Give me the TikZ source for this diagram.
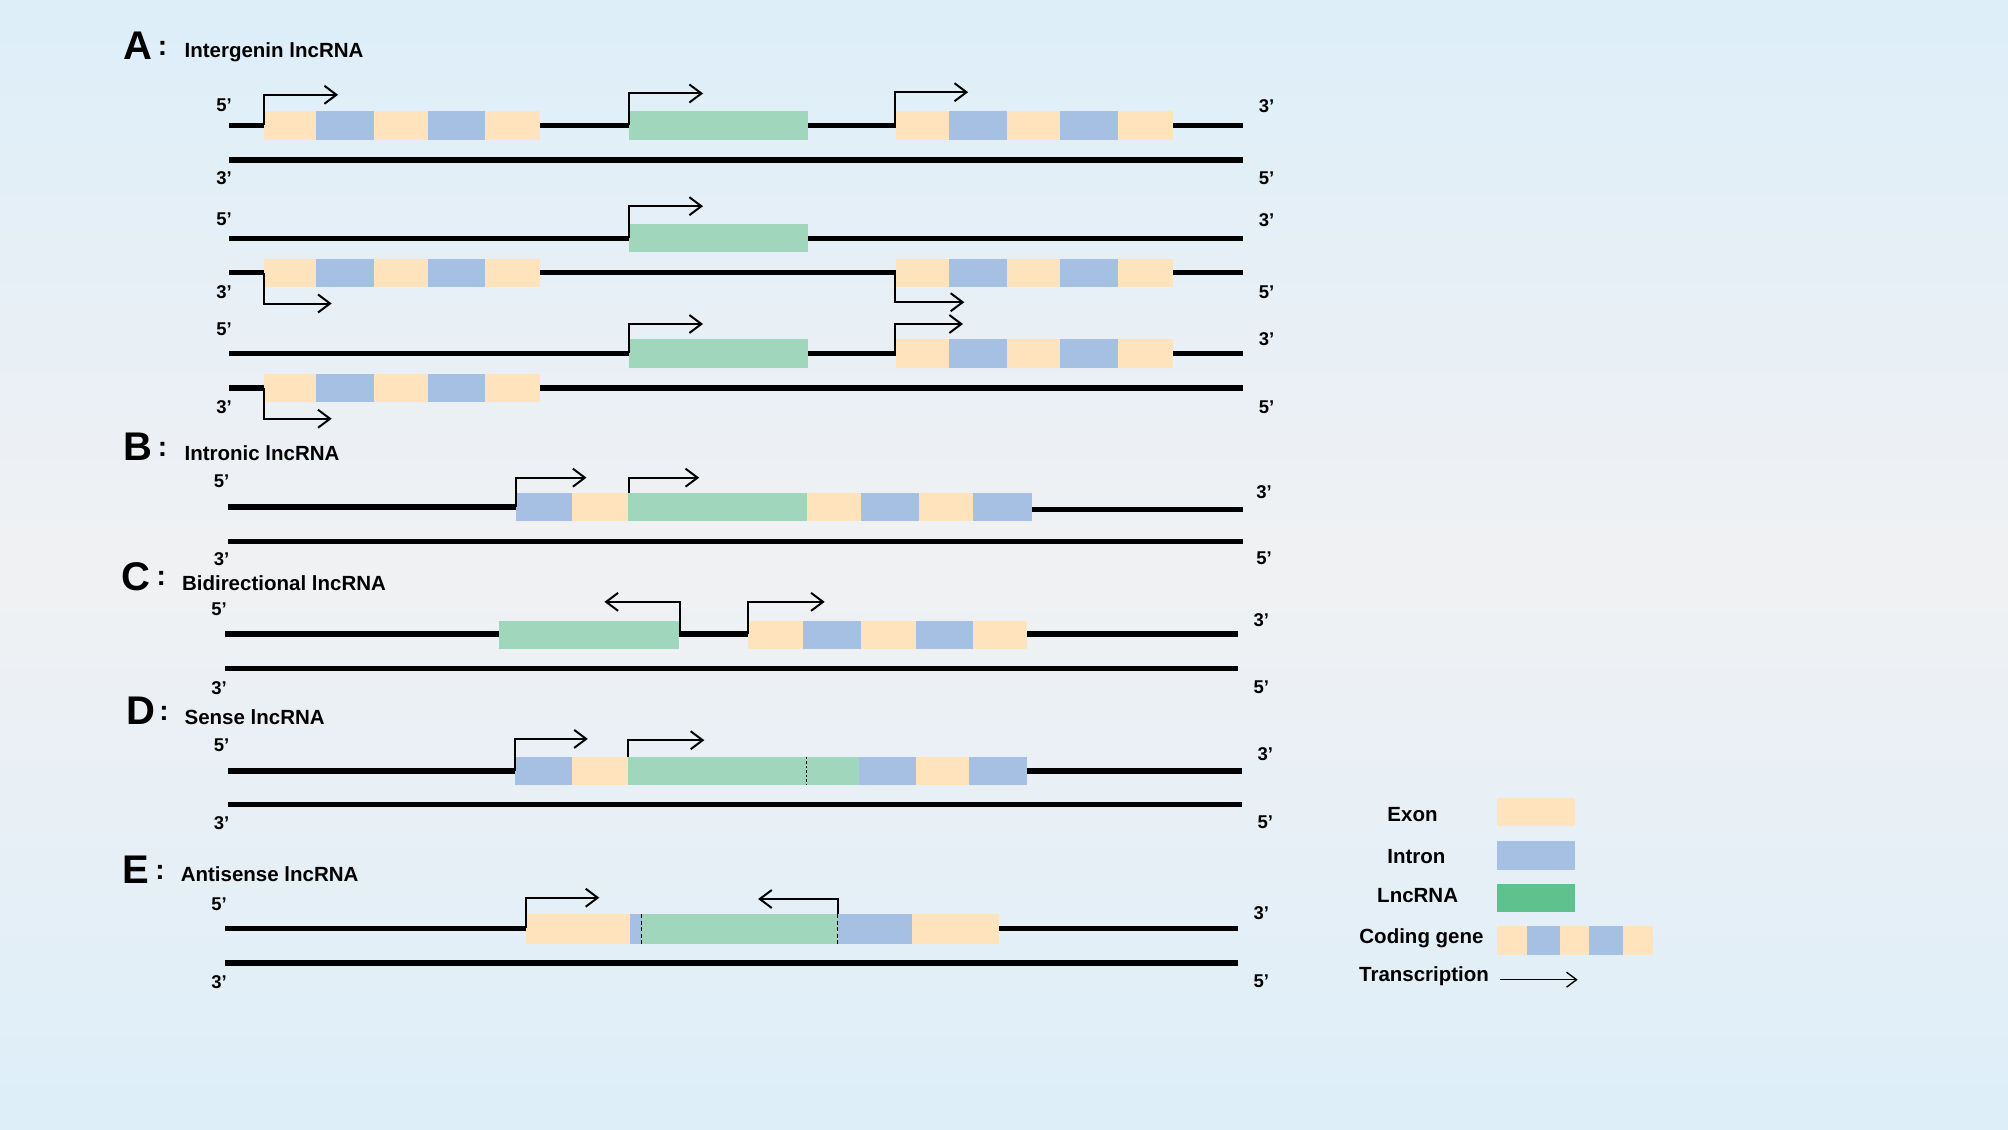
\documentclass[tikz,border=0pt]{standalone}
\usepackage{fontspec}
\setmainfont{Liberation Sans}
\usetikzlibrary{arrows.meta}
\definecolor{bgtop}{HTML}{DDEEF9}
\definecolor{bgmid}{HTML}{F0F1F3}
\definecolor{exon}{HTML}{FFE3BC}
\definecolor{intron}{HTML}{A6C0E4}
\definecolor{lnc}{HTML}{A0D6BC}
\definecolor{lncleg}{HTML}{5EC18E}
\newcommand\cgene[2]{%
  \fill[exon]   (#1,#2-11)     rectangle (#1+41,#2+11);
  \fill[intron] (#1+41,#2-11)  rectangle (#1+86,#2+11);
  \fill[exon]   (#1+86,#2-11)  rectangle (#1+128,#2+11);
  \fill[intron] (#1+128,#2-11) rectangle (#1+173,#2+11);
  \fill[exon]   (#1+173,#2-11) rectangle (#1+216,#2+11);}
\newcommand\lncbox[3]{\fill[lnc] (#1,#3-11) rectangle (#2,#3+11);}
\begin{document}
\begin{tikzpicture}[x=1.2806pt,y=-1.2806pt,
  strand/.style={line width=5.3pt},
  prom/.style={line width=2pt,-{Straight Barb[length=12pt,width=18pt,line width=2pt]}},
  lab/.style={font=\fontsize{18.5}{18.5}\selectfont\bfseries,inner sep=0pt},
  ttl/.style={font=\fontsize{20.5}{20.5}\selectfont\bfseries,anchor=west,inner sep=0pt},
  big/.style={font=\fontsize{40}{40}\selectfont\bfseries,inner sep=0pt},
  colon/.style={font=\fontsize{28}{28}\selectfont\bfseries,inner sep=0pt},
  leg/.style={font=\fontsize{20.5}{20.5}\selectfont\bfseries,inner sep=0pt}]
\shade[top color=bgtop,bottom color=bgtop,middle color=bgmid] (0,0) rectangle (1568,882);
\useasboundingbox (0,0) rectangle (1568,882);

% ---------- A ----------
\node[big] (tA) at (108,36) {A};
\node[colon] (cA) at (127,38) {:};
\node[ttl] (nA) at (144,41) {Intergenin lncRNA};
% row 1
\draw[strand] (179,98) -- (971,98);
\draw[strand] (179,125) -- (971,125);
\cgene{206}{98}
\lncbox{491}{631}{98}
\cgene{700}{98}
\draw[prom] (206,98) |- (264,74);
\draw[prom] (491,98) |- (549,73);
\draw[prom] (699,98) |- (756,72);
\node[lab] (a1) at (175,82) {5’};
\node[lab] (a2) at (989,83) {3’};
\node[lab] (a3) at (175,139) {3’};
\node[lab] (a4) at (989,139) {5’};
% row 2
\draw[strand] (179,186) -- (971,186);
\draw[strand] (179,213) -- (971,213);
\lncbox{491}{631}{186}
\cgene{206}{213}
\cgene{700}{213}
\draw[prom] (491,186) |- (549,161);
\draw[prom] (206,213) |- (259,237);
\draw[prom] (699,213) |- (753,236);
\node[lab] (b1) at (175,171) {5’};
\node[lab] (b2) at (989,172) {3’};
\node[lab] (b3) at (175,228) {3’};
\node[lab] (b4) at (989,228) {5’};
% row 3
\draw[strand] (179,276) -- (971,276);
\draw[strand] (179,303) -- (971,303);
\lncbox{491}{631}{276}
\cgene{700}{276}
\cgene{206}{303}
\draw[prom] (491,276) |- (549,253);
\draw[prom] (699,276) |- (752,253);
\draw[prom] (206,303) |- (259,327);
\node[lab] (c1) at (175,257) {5’};
\node[lab] (c2) at (989,265) {3’};
\node[lab] (c3) at (175,318) {3’};
\node[lab] (c4) at (989,318) {5’};

% ---------- B ----------
\node[big] (tB) at (108,349) {B};
\node[colon] (cB) at (127,351) {:};
\node[ttl] (nB) at (144,354) {Intronic lncRNA};
\draw[strand] (178,396) -- (404,396);
\draw[strand] (805,398) -- (971,398);
\draw[strand] (178,423) -- (971,423);
\fill[intron] (403,385) rectangle (447,407);
\fill[exon]   (447,385) rectangle (490,407);
\fill[lnc]    (490,385) rectangle (630,407);
\fill[exon]   (630,385) rectangle (672,407);
\fill[intron] (672,385) rectangle (718,407);
\fill[exon]   (718,385) rectangle (760,407);
\fill[intron] (760,385) rectangle (806,407);
\draw[prom] (403,396) |- (458,373);
\draw[prom] (491,385) |- (546,373);
\node[lab] (d1) at (173,376) {5’};
\node[lab] (d2) at (987,384) {3’};
\node[lab] (d3) at (173,437) {3’};
\node[lab] (d4) at (987,436) {5’};

% ---------- C ----------
\node[big] (tC) at (106,450) {C};
\node[colon] (cC) at (126,452) {:};
\node[ttl] (nC) at (142,455) {Bidirectional lncRNA};
\draw[strand] (176,495) -- (967,495);
\draw[strand] (176,522) -- (967,522);
\lncbox{390}{530}{496}
\fill[exon]   (584,485) rectangle (627,507);
\fill[intron] (627,485) rectangle (672,507);
\fill[exon]   (672,485) rectangle (715,507);
\fill[intron] (715,485) rectangle (760,507);
\fill[exon]   (760,485) rectangle (802,507);
\draw[prom] (531,495) |- (472,470);
\draw[prom] (584,495) |- (644,470);
\node[lab] (e1) at (171,476) {5’};
\node[lab] (e2) at (985,484) {3’};
\node[lab] (e3) at (171,537) {3’};
\node[lab] (e4) at (985,537) {5’};

% ---------- D ----------
\node[big] (tD) at (110,555) {D};
\node[colon] (cD) at (128,557) {:};
\node[ttl] (nD) at (144,560) {Sense lncRNA};
\draw[strand] (178,602) -- (970,602);
\draw[strand] (178,628) -- (970,628);
\fill[intron] (402,591) rectangle (447,613);
\fill[exon]   (447,591) rectangle (490,613);
\fill[lnc]    (490,591) rectangle (671,613);
\fill[intron] (671,591) rectangle (715,613);
\fill[exon]   (715,591) rectangle (757,613);
\fill[intron] (757,591) rectangle (802,613);
\draw[line width=1.3pt,dash pattern=on 2.5pt off 2pt] (630,591) -- (630,613);
\draw[prom] (402,602) |- (459,577);
\draw[prom] (490,591) |- (550,578);
\node[lab] (f1) at (173,582) {5’};
\node[lab] (f2) at (988,589) {3’};
\node[lab] (f3) at (173,643) {3’};
\node[lab] (f4) at (988,642) {5’};

% ---------- E ----------
\node[big] (tE) at (106,679) {E};
\node[colon] (cE) at (125,681) {:};
\node[ttl] (nE) at (141,683) {Antisense lncRNA};
\draw[strand] (176,725) -- (967,725);
\draw[strand] (176,752) -- (967,752);
\fill[exon]   (411,714) rectangle (492,737);
\fill[intron] (492,714) rectangle (501,737);
\fill[lnc]    (501,714) rectangle (654,737);
\fill[intron] (654,714) rectangle (712,737);
\fill[exon]   (712,714) rectangle (780,737);
\draw[line width=1.5pt,dash pattern=on 4pt off 2.5pt] (501,714) -- (501,737);
\draw[line width=1.5pt,dash pattern=on 4pt off 2.5pt] (654,714) -- (654,737);
\draw[prom] (411,725) |- (468,701);
\draw[prom] (654,714) |- (592,702);
\node[lab] (g1) at (171,706) {5’};
\node[lab] (g2) at (985,713) {3’};
\node[lab] (g3) at (171,767) {3’};
\node[lab] (g4) at (985,766) {5’};

% ---------- legend ----------
\node[leg] (lExon) at (1103,636) {Exon};
\fill[exon] (1169,623) rectangle (1230,645);
\node[leg] (lIntron) at (1106,669) {Intron};
\fill[intron] (1169,657) rectangle (1230,679);
\node[leg] (lLnc) at (1107,699) {LncRNA};
\fill[lncleg] (1169,690) rectangle (1230,712);
\node[leg] (lCod) at (1110,733) {Coding gene};
\fill[exon]   (1169,723) rectangle (1192,746);
\fill[intron] (1192,723) rectangle (1218,746);
\fill[exon]   (1218,723) rectangle (1241,746);
\fill[intron] (1241,723) rectangle (1267,746);
\fill[exon]   (1267,723) rectangle (1291,746);
\node[leg] (lTr) at (1112,762) {Transcription};
\coordinate (trA) at (1171,765);
\coordinate (trB) at (1232,765);
\draw[line width=1.4pt,-{Straight Barb[length=10pt,width=15pt,line width=1.4pt]}] (trA) -- (trB);
\end{tikzpicture}
\end{document}
